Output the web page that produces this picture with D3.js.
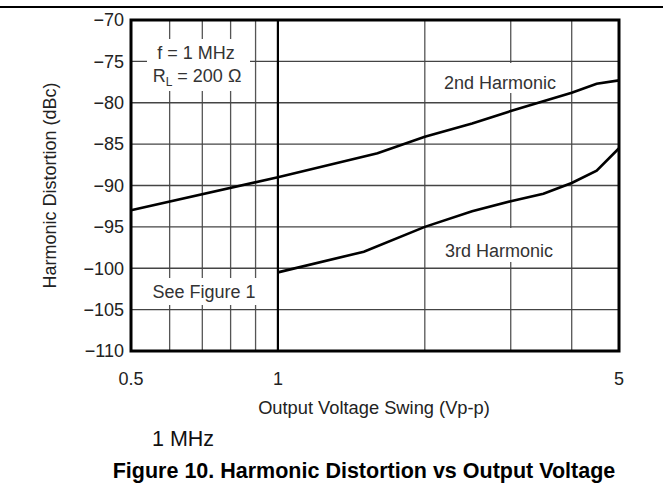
<!DOCTYPE html>
<html>
<head>
<meta charset="utf-8">
<script src="https://cdn.jsdelivr.net/npm/d3@7"></script>
<style>
  body { margin: 0; background: #fff; }
  text { font-family: "Liberation Sans", Arial, sans-serif; }
</style>
</head>
<body>
<svg id="chart" width="663" height="495"></svg>
<script>
// data
var xTicks = [0.5, 1, 5];
var xGrid = [0.6, 0.7, 0.8, 0.9, 2, 3, 4];
var yTicks = [-70, -75, -80, -85, -90, -95, -100, -105, -110];

var h2Swing = [0.5, 1, 1.6, 2, 2.5, 3, 4, 4.5, 5];
var h2Dist = [-93, -89, -86.1, -84.1, -82.5, -81, -78.8, -77.7, -77.3];

var h3Swing = [1, 1.5, 2, 2.5, 3, 3.5, 4, 4.5, 5];
var h3Dist = [-100.5, -98, -95, -93.1, -91.9, -91, -89.7, -88.2, -85.5];

var svg = d3.select('#chart');

var pLeft = 131, pRight = 619, pTop = 20, pBottom = 351;

var x = d3.scaleLog().domain([0.5, 5]).range([pLeft, pRight]);
var y = d3.scaleLinear().domain([-110, -70]).range([pBottom, pTop]);

// rule across the top of the page
svg.append('line')
  .attr('x1', 0).attr('x2', 663).attr('y1', 7).attr('y2', 7)
  .attr('stroke', '#000').attr('stroke-width', 2);

// grid
svg.append('g').selectAll('line').data(xGrid).enter().append('line')
  .attr('x1', function(d) { return x(d); }).attr('x2', function(d) { return x(d); })
  .attr('y1', pTop).attr('y2', pBottom)
  .attr('stroke', '#555').attr('stroke-width', 1.3);

svg.append('g').selectAll('line').data(yTicks.slice(1, -1)).enter().append('line')
  .attr('x1', pLeft).attr('x2', pRight)
  .attr('y1', function(d) { return y(d); }).attr('y2', function(d) { return y(d); })
  .attr('stroke', '#444').attr('stroke-width', 1.3);

// white boxes behind the notes
var boxes = [
  [147, 39, 103, 52],
  [150, 278, 108, 27],
  [440, 63, 120, 30],
  [440, 228, 120, 34]
];
svg.append('g').selectAll('rect').data(boxes).enter().append('rect')
  .attr('x', function(d) { return d[0]; }).attr('y', function(d) { return d[1]; })
  .attr('width', function(d) { return d[2]; }).attr('height', function(d) { return d[3]; })
  .attr('fill', '#fff');

// the 1 V line is heavier
svg.append('line')
  .attr('x1', x(1)).attr('x2', x(1)).attr('y1', pTop).attr('y2', pBottom)
  .attr('stroke', '#000').attr('stroke-width', 2.2);

// curves
var line = d3.line()
  .x(function(d) { return x(d[0]); })
  .y(function(d) { return y(d[1]); });

svg.append('path')
  .datum(d3.zip(h2Swing, h2Dist))
  .attr('d', line)
  .attr('fill', 'none').attr('stroke', '#000').attr('stroke-width', 2.6);

svg.append('path')
  .datum(d3.zip(h3Swing, h3Dist))
  .attr('d', line)
  .attr('fill', 'none').attr('stroke', '#000').attr('stroke-width', 2.6);

// frame
svg.append('rect')
  .attr('x', pLeft).attr('y', pTop)
  .attr('width', pRight - pLeft).attr('height', pBottom - pTop)
  .attr('fill', 'none').attr('stroke', '#000').attr('stroke-width', 3);

// axes labels
svg.append('g').selectAll('text').data(yTicks).enter().append('text')
  .attr('x', pLeft - 7).attr('y', function(d) { return y(d); })
  .attr('dy', '0.35em')
  .attr('text-anchor', 'end')
  .attr('font-size', 18).attr('fill', '#222')
  .text(function(d) { return String(d).replace('-', '\u2212'); });

svg.append('g').selectAll('text').data(xTicks).enter().append('text')
  .attr('x', function(d) { return x(d); }).attr('y', 379)
  .attr('dy', '0.35em')
  .attr('text-anchor', 'middle')
  .attr('font-size', 18).attr('fill', '#222')
  .text(function(d) { return d; });

svg.append('text')
  .attr('x', 374).attr('y', 408).attr('dy', '0.35em')
  .attr('text-anchor', 'middle')
  .attr('font-size', 18.3).attr('fill', '#222')
  .text('Output Voltage Swing (Vp-p)');

svg.append('text')
  .attr('transform', 'translate(50,' + ((pTop + pBottom) / 2) + ') rotate(-90)')
  .attr('dy', '0.35em')
  .attr('text-anchor', 'middle')
  .attr('font-size', 18).attr('fill', '#222')
  .text('Harmonic Distortion (dBc)');

// notes
var notes = svg.append('g').attr('font-size', 18).attr('fill', '#333').attr('text-anchor', 'middle');
notes.append('text').attr('x', 196).attr('y', 59).text('f = 1 MHz');
var rl = notes.append('text').attr('x', 197).attr('y', 82);
rl.append('tspan').text('R');
rl.append('tspan').attr('font-size', 12).attr('dy', 4).text('L');
rl.append('tspan').attr('dy', -4).text(' = 200 \u03A9');
notes.append('text').attr('x', 204).attr('y', 298).text('See Figure 1');
notes.append('text').attr('x', 500).attr('y', 89).text('2nd Harmonic');
notes.append('text').attr('x', 499).attr('y', 257).text('3rd Harmonic');

svg.append('text')
  .attr('x', 152).attr('y', 446)
  .attr('font-size', 21.5).attr('fill', '#111')
  .text('1 MHz');

svg.append('text')
  .attr('x', 364).attr('y', 478)
  .attr('text-anchor', 'middle')
  .attr('font-size', 21.5).attr('font-weight', 'bold').attr('fill', '#000')
  .text('Figure 10. Harmonic Distortion vs Output Voltage');
</script>
</body>
</html>
